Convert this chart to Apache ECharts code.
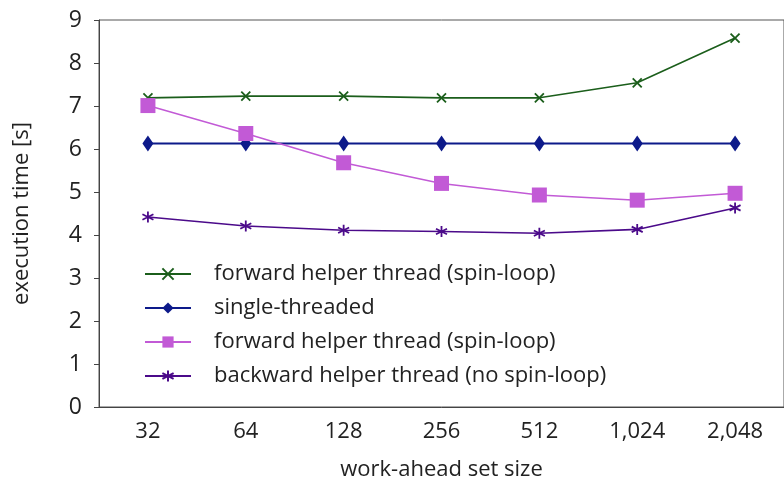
<!DOCTYPE html>
<html><head><meta charset="utf-8">
<script src="https://cdn.jsdelivr.net/npm/echarts@6/dist/echarts.min.js"></script>
<style>html,body{margin:0;padding:0;background:#fff}#c{width:784px;height:486px}</style>
</head><body><div id="c"></div>
<script>
const categories = ['32','64','128','256','512','1,024','2,048'];
const fwdSpin1 = [7.19, 7.23, 7.23, 7.19, 7.19, 7.54, 8.58];
const single = [6.13, 6.13, 6.13, 6.13, 6.13, 6.13, 6.13];
const fwdSpin2 = [7.01, 6.36, 5.68, 5.20, 4.93, 4.81, 4.97];
const backward = [4.42, 4.21, 4.11, 4.08, 4.04, 4.13, 4.63];
const seriesNames = ['forward helper thread (spin-loop)', 'single-threaded', 'forward helper thread (spin-loop) ', 'backward helper thread (no spin-loop)'];

const font = 'Open Sans';
const chart = echarts.init(document.getElementById('c'));
const crossPath = 'path://M0,0L10,10M10,0L0,10';
const starPath = 'path://M5,0L5,10M0.67,2.5L9.33,7.5M0.67,7.5L9.33,2.5';
function mk(name, data, color, symbol, size, lw, symStyle) {
  return {
    name, type: 'line', data, symbol, symbolSize: size,
    lineStyle: {color, width: lw},
    itemStyle: Object.assign({color}, symStyle || {}),
    z: 3
  };
}
chart.setOption({
  animation: false,
  grid: {left: 99, right: -3, top: 20, bottom: 78, show: true, borderColor: '#555', borderWidth: 1},
  legend: {
    orient: 'vertical', left: 139, top: 258, itemGap: 12, itemWidth: 46, itemHeight: 14,
    textStyle: {fontFamily: font, fontSize: 22, color: '#222', padding: [0,0,0,18]},
    formatter: n => n.trim(),
    data: seriesNames
  },
  xAxis: {
    type: 'category', data: categories, boundaryGap: true,
    name: 'work-ahead set size', nameLocation: 'middle', nameGap: 52,
    nameTextStyle: {fontFamily: font, fontSize: 22, color: '#222'},
    axisLine: {lineStyle: {color: '#444'}},
    axisTick: {alignWithLabel: true, length: 5, lineStyle: {color: '#444'}},
    axisLabel: {fontFamily: font, fontSize: 22, color: '#222', margin: 14},
    splitLine: {show: false}
  },
  yAxis: {
    type: 'value', min: 0, max: 9, interval: 1,
    name: 'execution time [s]', nameLocation: 'middle', nameGap: 66,
    nameTextStyle: {fontFamily: font, fontSize: 22, color: '#222'},
    axisLine: {show: true, lineStyle: {color: '#444'}},
    axisTick: {show: true, length: 5, lineStyle: {color: '#444'}},
    axisLabel: {fontFamily: font, fontSize: 23, color: '#222', margin: 17},
    splitLine: {show: false}
  },
  series: [
    mk(seriesNames[0], fwdSpin1, '#1b5e1b', crossPath, 9, 1.6, {borderColor: '#1b5e1b', borderWidth: 1.8}),
    mk(seriesNames[1], single, '#0d1a8a', 'diamond', [11, 16], 2, {}),
    mk(seriesNames[2], fwdSpin2, '#c25ad6', 'rect', 15, 1.5, {}),
    mk(seriesNames[3], backward, '#4b0a8a', starPath, 11, 1.6, {borderColor: '#4b0a8a', borderWidth: 1.8})
  ]
});
</script></body></html>
